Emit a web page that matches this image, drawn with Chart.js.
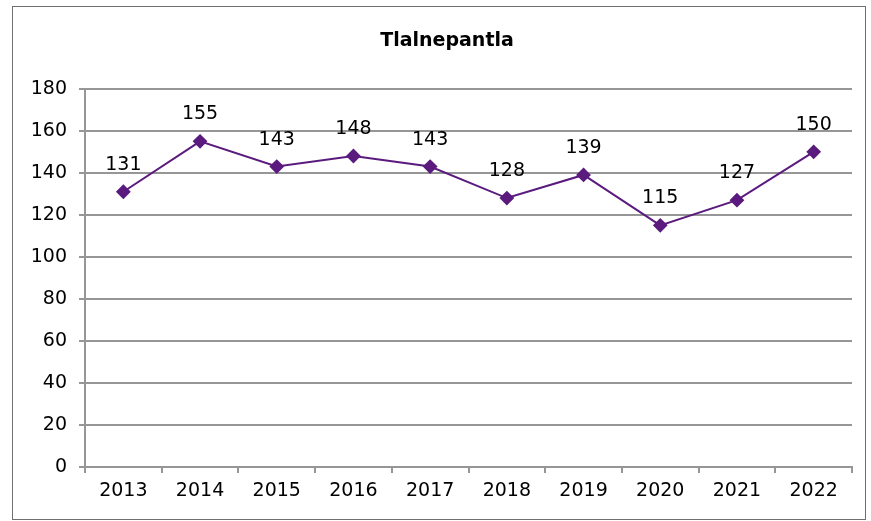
<!DOCTYPE html>
<html>
<head>
<meta charset="utf-8">
<script src="https://cdn.jsdelivr.net/npm/chart.js@4"></script>
<style>
  body { margin: 0; background: #fff; }
  #box { position: absolute; left: 12px; top: 6px; width: 852px; height: 512px; border: 1px solid #707070; }
</style>
</head>
<body>
<div id="box"><canvas id="chart" width="852" height="512"></canvas></div>
<script>
const years = ['2013', '2014', '2015', '2016', '2017', '2018', '2019', '2020', '2021', '2022'];
const values = [131, 155, 143, 148, 143, 128, 139, 115, 127, 150];
const yTicks = [0, 20, 40, 60, 80, 100, 120, 140, 160, 180];

const font = 'DejaVu Sans';
const purple = '#5b1a7e';
const gray = '#969696';

// numbers above each point
const pointLabels = {
  id: 'pointLabels',
  afterLayout(chart) {
    // title sits a bit right of centre in the original
    chart.titleBlock.left += 29;
  },
  afterDatasetsDraw(chart) {
    const ctx = chart.ctx;
    const meta = chart.getDatasetMeta(0);
    ctx.save();
    ctx.font = '19px "' + font + '"';
    ctx.fillStyle = '#000';
    ctx.textAlign = 'center';
    ctx.textBaseline = 'alphabetic';
    meta.data.forEach((pt, i) => {
      ctx.fillText(values[i], pt.x, pt.y - 22);
    });
    ctx.restore();
  }
};

new Chart(document.getElementById('chart').getContext('2d'), {
  type: 'line',
  data: {
    labels: years,
    datasets: [{
      data: values,
      borderColor: purple,
      backgroundColor: purple,
      borderWidth: 2,
      pointStyle: 'rectRot',
      pointRadius: 6,
      pointHoverRadius: 6,
      tension: 0
    }]
  },
  options: {
    responsive: false,
    animation: false,
    layout: { padding: { top: 0, right: 13, bottom: 0, left: 0 } },
    plugins: {
      legend: { display: false },
      tooltip: { enabled: false },
      title: {
        display: true,
        text: 'Tlalnepantla',
        color: '#000',
        font: { family: font, size: 19, weight: 'bold' },
        padding: { top: 23, bottom: 36 }
      }
    },
    scales: {
      x: {
        offset: true,
        grid: { offset: true, drawOnChartArea: false, drawTicks: true, tickLength: 6, color: gray, lineWidth: 2 },
        border: { color: gray, width: 2 },
        ticks: { color: '#000', font: { family: font, size: 19 }, padding: 7, maxRotation: 0 },
        afterFit(scale) { scale.height = 52; }
      },
      y: {
        min: 0,
        max: 180,
        afterBuildTicks(scale) { scale.ticks = yTicks.map(v => ({ value: v })); },
        grid: { color: gray, tickLength: 6, lineWidth: 2 },
        border: { color: gray, width: 2 },
        ticks: { color: '#000', font: { family: font, size: 19 }, padding: 12 },
        afterFit(scale) { scale.width = 72; }
      }
    }
  },
  plugins: [pointLabels]
});
</script>
</body>
</html>
